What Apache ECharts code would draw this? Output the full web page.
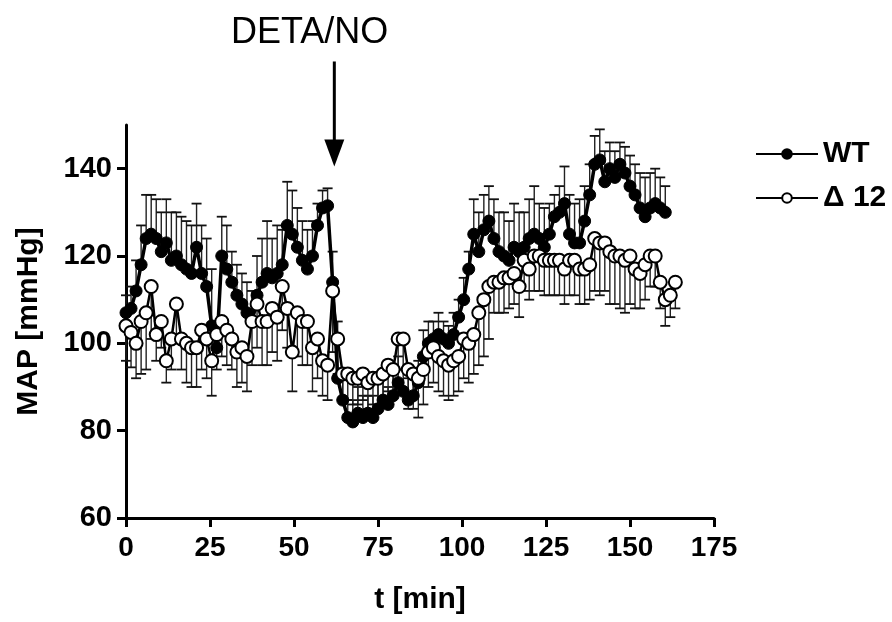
<!DOCTYPE html>
<html>
<head>
<meta charset="utf-8">
<script src="https://cdn.jsdelivr.net/npm/echarts@6/dist/echarts.min.js"></script>
<style>
  html, body { margin: 0; padding: 0; background: #fff; }
  #chart { width: 892px; height: 622px; }
</style>
</head>
<body>
<div id="chart"></div>
<script>
// sampling times (min)
var times = [0, 1.5, 3, 4.5, 6, 7.5, 9, 10.5, 12, 13.5, 15, 16.5, 18, 19.5, 21, 22.5, 24, 25.5, 27, 28.5,
  30, 31.5, 33, 34.5, 36, 37.5, 39, 40.5, 42, 43.5, 45, 46.5, 48, 49.5, 51, 52.5, 54, 55.5, 57, 58.5,
  60, 61.5, 63, 64.5, 66, 67.5, 69, 70.5, 72, 73.5, 75, 76.5, 78, 79.5, 81, 82.5, 84, 85.5, 87, 88.5,
  90, 91.5, 93, 94.5, 96, 97.5, 99, 100.5, 102, 103.5, 105, 106.5, 108, 109.5, 111, 112.5, 114, 115.5, 117, 118.5,
  120, 121.5, 123, 124.5, 126, 127.5, 129, 130.5, 132, 133.5, 135, 136.5, 138, 139.5, 141, 142.5, 144, 145.5, 147, 148.5,
  150, 151.5, 153, 154.5, 156, 157.5, 159, 160.5, 162, 163.5];

// WT mean MAP (mmHg) and SEM (upward bars)
var wtMean = [107, 108, 112, 118, 124, 125, 124, 121, 123, 119, 120, 118, 117, 116, 122, 116, 113, 104, 99, 120,
  117, 114, 111, 109, 107, 105, 111, 114, 116, 115, 116, 118, 127, 125, 122, 119, 117, 120, 127, 131,
  131.5, 114, 92, 87, 83, 82, 84, 83, 84, 83, 85, 87, 86, 88, 91, 89, 87, 88, 91, 97,
  100, 101, 102, 101, 100, 102, 106, 110, 117, 125, 121, 126, 128, 124, 121, 120, 119, 122, 121, 122,
  124, 125, 124, 122, 125, 129, 130, 132, 125, 123, 123, 128, 134, 141, 142, 137, 140, 138, 141, 139,
  136, 134, 131, 129, 131, 132, 131, 130];
var wtSem = [4, 5, 7, 9, 10, 9, 9, 9, 10, 11, 10, 11, 11, 11, 10, 11, 11, 13, 6, 9,
  10, 7, 7, 7, 7, 7, 9, 10, 12, 9, 11, 8, 10, 10, 9, 9, 9, 8, 5, 4,
  4, 7, 13, 5, 4, 5, 6, 5, 4, 5, 6, 5, 4, 5, 6, 5, 5, 4, 5, 6,
  5, 4, 5, 4, 4, 5, 4, 5, 4, 8, 9, 8, 8, 9, 9, 10, 9, 10, 9, 8,
  9, 11, 8, 9, 7, 5, 6, 8.5, 9, 9, 10, 8, 7, 6.5, 7, 7, 6, 6, 5, 6,
  7, 7, 8, 9, 8, 8, 7, 6];

// Δ12 mean MAP (mmHg) and SEM (downward bars)
var koMean = [104, 102.5, 100, 105, 107, 113, 102, 105, 96, 101, 109, 101, 100, 99, 99, 103, 101, 96, 102, 105,
  103, 101, 98, 99, 97, 105, 109, 105, 105, 108, 106, 113, 108, 98, 107, 105, 105, 99, 101, 96,
  95, 112, 101, 93, 93, 92, 92, 93, 91, 92, 92, 93, 95, 94, 101, 101, 94, 93, 92, 94,
  98, 99, 97, 96, 95, 96, 97, 101, 100, 102, 107, 110, 113, 114, 114, 115, 115, 116, 113, 119,
  117, 120, 120, 119, 119, 119, 119, 117, 119, 119, 117, 117, 118, 124, 123, 123, 121, 120, 120, 119,
  120, 117, 116, 118, 120, 120, 114, 110, 111, 114];
var koSem = [8, 8, 8, 12, 13, 12, 6, 6, 5, 7, 8, 7, 9, 9, 9, 9, 9, 8, 8, 8,
  8, 7, 8, 8, 8, 10, 10, 10, 10, 10, 10, 10, 9, 9, 10, 10, 10, 10, 9, 8,
  8, 14, 8, 6, 6, 6, 6, 6, 6, 6, 6, 6, 6, 6, 7, 7, 9, 8, 9, 8,
  8, 8, 8, 8, 8, 8, 8, 9, 9, 9, 12, 13, 12, 7, 7, 8, 7, 7, 7, 7,
  7, 8, 8, 8, 8, 8, 8, 8, 8, 8, 8, 8, 8, 12, 12, 11, 12, 11, 12, 12,
  11, 9, 8, 8, 7, 7, 6, 6, 5, 6];

var xTicks = [0, 25, 50, 75, 100, 125, 150, 175];
var yTicks = [60, 80, 100, 120, 140];
var doseTime = 62;      // DETA/NO injection
var arrowTipValue = 140.5;

var FONT = 'Liberation Sans, Arial, sans-serif';

function pairs(vals) {
  return vals.map(function (v, i) { return [times[i], v]; });
}
function triples(vals, sem) {
  return vals.map(function (v, i) { return [times[i], v, sem[i]]; });
}

function errorBars(dir) {
  return function (params, api) {
    var t = api.value(0), v = api.value(1), e = api.value(2);
    var p0 = api.coord([t, v]);
    var p1 = api.coord([t, v + dir * e]);
    var hw = 5;
    return {
      type: 'group',
      children: [
        { type: 'line', shape: { x1: p0[0], y1: p0[1], x2: p1[0], y2: p1[1] },
          style: { stroke: '#222', lineWidth: 1.4 } },
        { type: 'line', shape: { x1: p1[0] - hw, y1: p1[1], x2: p1[0] + hw, y2: p1[1] },
          style: { stroke: '#111', lineWidth: 1.8 } }
      ]
    };
  };
}

var chart = echarts.init(document.getElementById('chart'));
chart.setOption({
  animation: false,
  backgroundColor: '#fff',
  textStyle: { fontFamily: FONT },
  title: {
    text: 'DETA/NO',
    left: 226,
    top: 10,
    textStyle: { fontFamily: FONT, fontSize: 36, fontWeight: 'normal', color: '#000' }
  },
  legend: {
    orient: 'vertical',
    left: 750,
    top: 134,
    itemWidth: 62,
    itemHeight: 12,
    itemGap: 14,
    data: ['WT', 'Δ 12'],
    textStyle: { fontFamily: FONT, fontSize: 30, fontWeight: 'bold', color: '#000' }
  },
  grid: { left: 126, right: 178, top: 125, bottom: 104 },
  xAxis: {
    type: 'value',
    min: 0,
    max: 175,
    interval: 25,
    name: 't [min]',
    nameLocation: 'middle',
    nameGap: 67,
    nameTextStyle: { fontFamily: FONT, fontSize: 30, fontWeight: 'bold', color: '#000' },
    splitLine: { show: false },
    axisLine: { lineStyle: { color: '#000', width: 3 } },
    axisTick: { show: true, length: 9, lineStyle: { color: '#000', width: 3 }, customValues: xTicks },
    axisLabel: { margin: 16, fontFamily: FONT, fontSize: 28, fontWeight: 'bold', color: '#000', customValues: xTicks }
  },
  yAxis: {
    type: 'value',
    min: 60,
    max: 150,
    interval: 20,
    name: 'MAP [mmHg]',
    nameLocation: 'middle',
    nameGap: 82,
    nameTextStyle: { fontFamily: FONT, fontSize: 30, fontWeight: 'bold', color: '#000' },
    splitLine: { show: false },
    axisLine: { show: true, lineStyle: { color: '#000', width: 3 } },
    axisTick: { show: true, length: 9, lineStyle: { color: '#000', width: 3 }, customValues: yTicks },
    axisLabel: { margin: 14, fontFamily: FONT, fontSize: 29, fontWeight: 'bold', color: '#000', customValues: yTicks }
  },
  series: [
    {
      name: 'WT-err',
      type: 'custom',
      renderItem: errorBars(1),
      data: triples(wtMean, wtSem),
      encode: { x: 0, y: 1 },
      z: 1,
      silent: true
    },
    {
      name: 'KO-err',
      type: 'custom',
      renderItem: errorBars(-1),
      data: triples(koMean, koSem),
      encode: { x: 0, y: 1 },
      z: 1,
      silent: true
    },
    {
      name: 'WT',
      type: 'line',
      data: pairs(wtMean),
      symbol: 'circle',
      symbolSize: 12,
      showAllSymbol: true,
      lineStyle: { color: '#000', width: 3.5 },
      itemStyle: { color: '#000', borderColor: '#000', borderWidth: 1 },
      z: 3
    },
    {
      name: 'Δ 12',
      type: 'line',
      data: pairs(koMean),
      symbol: 'circle',
      symbolSize: 13,
      showAllSymbol: true,
      lineStyle: { color: '#000', width: 2.5 },
      itemStyle: { color: '#fff', borderColor: '#000', borderWidth: 2 },
      z: 4
    }
  ]
});

// DETA/NO arrow placed at the injection time
var tip = chart.convertToPixel({ gridIndex: 0 }, [doseTime, arrowTipValue]);
chart.setOption({
  graphic: [
    {
      type: 'line',
      shape: { x1: tip[0], y1: tip[1] - 105, x2: tip[0], y2: tip[1] - 24 },
      style: { stroke: '#000', lineWidth: 3 }
    },
    {
      type: 'polygon',
      shape: { points: [[tip[0] - 10, tip[1] - 27], [tip[0] + 10, tip[1] - 27], [tip[0], tip[1]]] },
      style: { fill: '#000' }
    }
  ]
});
</script>
</body>
</html>
